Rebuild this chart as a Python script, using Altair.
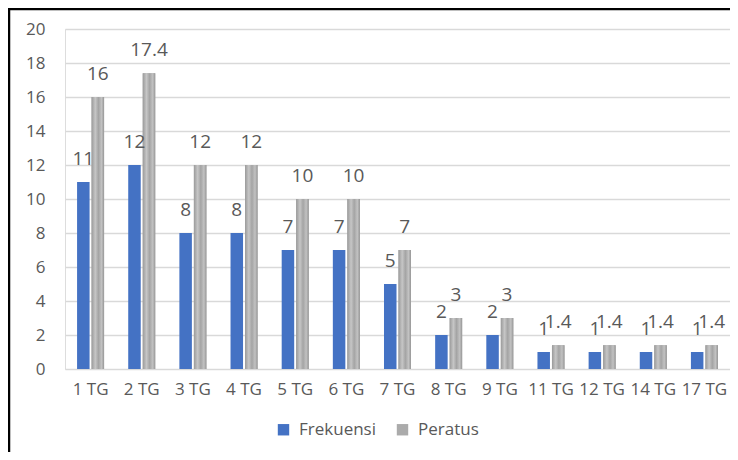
import altair as alt
import pandas as pd

categories = ["1 TG", "2 TG", "3 TG", "4 TG", "5 TG", "6 TG", "7 TG", "8 TG", "9 TG",
              "11 TG", "12 TG", "14 TG", "17 TG"]
frekuensi = [11, 12, 8, 8, 7, 7, 5, 2, 2, 1, 1, 1, 1]
peratus = [16, 17.4, 12, 12, 10, 10, 7, 3, 3, 1.4, 1.4, 1.4, 1.4]
series = ["Frekuensi", "Peratus"]
y_ticks = [0, 2, 4, 6, 8, 10, 12, 14, 16, 18, 20]

rows = []
for c, f, p in zip(categories, frekuensi, peratus):
    rows.append({"kategori": c, "seri": series[0], "nilai": f, "label": f"{f:g}"})
    rows.append({"kategori": c, "seri": series[1], "nilai": p, "label": f"{p:g}"})
df = pd.DataFrame(rows)

FONT = "Open Sans"
W, H = 665, 340

x = alt.X("kategori:N", sort=categories, title=None,
          scale=alt.Scale(paddingInner=0.472, paddingOuter=0.236),
          axis=alt.Axis(labelAngle=0, labelFontSize=17, labelColor="#595959",
                        labelFont=FONT, ticks=False, domain=False, grid=False,
                        labelPadding=12))
xo = alt.XOffset("seri:N", sort=series,
                 scale=alt.Scale(paddingInner=0.138, paddingOuter=0))
y = alt.Y("nilai:Q", title=None,
          scale=alt.Scale(domain=[0, 20], nice=False),
          axis=alt.Axis(values=y_ticks, labelFontSize=17, labelColor="#595959",
                        labelFont=FONT, ticks=False, domain=False,
                        gridColor="#d9d9d9", gridWidth=1.3, labelPadding=20))

color = alt.Color("seri:N", sort=series, title=None,
                  scale=alt.Scale(domain=series, range=["#4472C4", "#ABABAB"]),
                  legend=alt.Legend(orient="none", direction="horizontal",
                                    legendX=210, legendY=392,
                                    symbolType="square", symbolSize=130,
                                    symbolStrokeWidth=0,
                                    labelFontSize=17, labelColor="#595959",
                                    labelFont=FONT, labelOffset=7,
                                    columnPadding=18))

base = alt.Chart(df)

bars = base.mark_bar().encode(x=x, xOffset=xo, y=y, color=color)

gray_grad = alt.LinearGradient(
    gradient="linear", x1=0, x2=1, y1=0, y2=0,
    stops=[alt.GradientStop(color="#9a9a9a", offset=0),
           alt.GradientStop(color="#c6c6c6", offset=0.3),
           alt.GradientStop(color="#a4a4a4", offset=0.55),
           alt.GradientStop(color="#c2c2c2", offset=0.8),
           alt.GradientStop(color="#969696", offset=1)])

texture = base.transform_filter(alt.datum.seri == "Peratus").mark_bar(
    fill=gray_grad).encode(x=x, xOffset=xo, y=y)

labels = base.mark_text(baseline="bottom", dy=-13, fontSize=19,
                        font=FONT, color="#595959").encode(
    x=x, xOffset=xo, y=y, text="label:N")

frame_df = pd.DataFrame({"k": [0]})
frame_top = alt.Chart(frame_df).mark_rule(color="#000000", strokeWidth=2.5).encode(
    x=alt.value(-57), x2=alt.value(W), y=alt.value(-20))
frame_left = alt.Chart(frame_df).mark_rule(color="#000000", strokeWidth=2.5).encode(
    x=alt.value(-56), y=alt.value(-21), y2=alt.value(423))

chart = alt.layer(bars, texture, labels, frame_top, frame_left).properties(
    width=W, height=H,
    autosize=alt.AutoSizeParams(type="none"),
    padding={"left": 57, "top": 21, "right": 0, "bottom": 83},
).configure_view(stroke=None).configure(background="white")

chart.save("out.html", embed_options={"renderer": "svg", "actions": False})
